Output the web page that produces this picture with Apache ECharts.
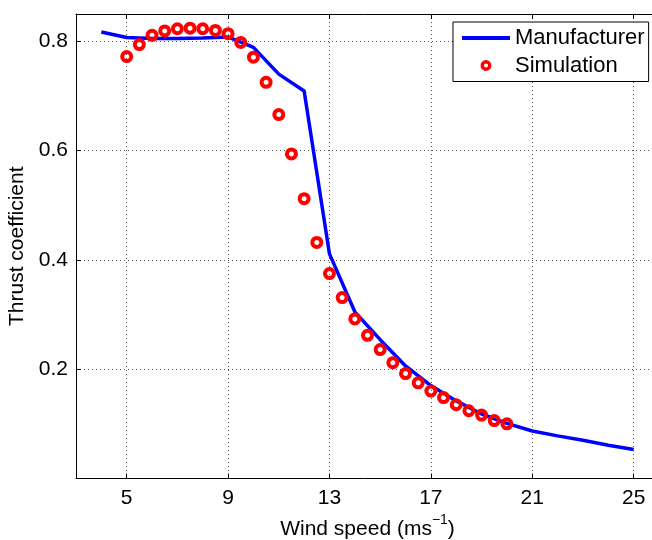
<!DOCTYPE html>
<html>
<head>
<meta charset="utf-8">
<script src="https://cdn.jsdelivr.net/npm/echarts@6/dist/echarts.min.js"></script>
<style>
  html, body { margin: 0; padding: 0; background: #fff; }
  #chart { width: 652px; height: 540px; }
</style>
</head>
<body>
<div id="chart"></div>
<script>
// ---- data ----
const windManufacturer = [4, 5, 6, 7, 8, 9, 10, 11, 12, 13, 14, 15, 16, 17, 18, 19, 20, 21, 22, 23, 24, 25];
const ctManufacturer   = [0.817, 0.807, 0.805, 0.805, 0.806, 0.808, 0.789, 0.740, 0.709, 0.411, 0.305, 0.254, 0.206, 0.170, 0.142, 0.118, 0.101, 0.087, 0.078, 0.070, 0.061, 0.053];

const windSimulation = [5, 5.5, 6, 6.5, 7, 7.5, 8, 8.5, 9, 9.5, 10, 10.5, 11, 11.5, 12, 12.5, 13, 13.5, 14, 14.5, 15, 15.5, 16, 16.5, 17, 17.5, 18, 18.5, 19, 19.5, 20];
const ctSimulation   = [0.772, 0.794, 0.811, 0.819, 0.823, 0.824, 0.823, 0.820, 0.814, 0.798, 0.771, 0.725, 0.666, 0.594, 0.512, 0.432, 0.375, 0.331, 0.292, 0.262, 0.236, 0.212, 0.192, 0.175, 0.160, 0.148, 0.135, 0.124, 0.116, 0.106, 0.100];

const xTicks = [5, 9, 13, 17, 21, 25];
const yTicks = [0.2, 0.4, 0.6, 0.8];

const seriesNames = ['Manufacturer', 'Simulation'];
const xTitle = 'Wind speed (ms';
const xTitleSup = '\u22121';
const yTitle = 'Thrust coefficient';

// ---- chart ----
const FONT = "'Liberation Sans', Arial, Helvetica, sans-serif";
const chart = echarts.init(document.getElementById('chart'), null, { renderer: 'canvas' });

const zip = (a, b) => a.map((v, i) => [v, b[i]]);

const gridLine = { show: true, lineStyle: { color: '#555', width: 1, type: [1, 3] } };

chart.setOption({
  animation: false,
  backgroundColor: '#fff',
  textStyle: { fontFamily: FONT },
  grid: { left: 76, top: 14, right: -7, bottom: 61.5, containLabel: false, outerBoundsMode: 'none' },
  legend: {
    orient: 'vertical',
    left: 453, top: 22,
    padding: [5, 4, 5, 9],
    itemGap: 5.5,
    itemWidth: 48,
    itemHeight: 7.5,
    borderColor: '#000', borderWidth: 1,
    backgroundColor: '#fff',
    textStyle: { fontFamily: FONT, fontSize: 22, color: '#000', lineHeight: 22 },
    data: [
      { name: seriesNames[0], icon: 'path://M0,0 H48 V4 H0 Z', itemStyle: { color: '#0000ff', borderWidth: 0 } },
      { name: seriesNames[1], icon: 'circle', itemStyle: { color: 'rgba(0,0,0,0)', borderColor: '#ff0000', borderWidth: 3.4 } }
    ]
  },
  xAxis: [{
    type: 'value', min: 3, max: 26, position: 'bottom',
    axisLine: { show: true, onZero: false, lineStyle: { color: '#000', width: 1 } },
    axisTick: { show: true, inside: true, length: 5, customValues: xTicks, lineStyle: { color: '#000' } },
    axisLabel: { show: true, customValues: xTicks, color: '#000', fontSize: 21, margin: 9, fontFamily: FONT },
    splitLine: gridLine,
    name: '{a|' + xTitle + '}{b|' + xTitleSup + '}{a|)}',
    nameLocation: 'middle', nameGap: 30,
    nameTextStyle: {
      rich: {
        a: { fontSize: 21, color: '#000', fontFamily: FONT, lineHeight: 26, verticalAlign: 'bottom' },
        b: { fontSize: 14, color: '#000', fontFamily: FONT, lineHeight: 26, verticalAlign: 'top', padding: [0, 0, 8, 0] }
      }
    }
  }, {
    type: 'value', min: 3, max: 26, position: 'top',
    axisLine: { show: true, onZero: false, lineStyle: { color: '#000', width: 1 } },
    axisTick: { show: true, inside: true, length: 5, customValues: xTicks, lineStyle: { color: '#000' } },
    axisLabel: { show: false },
    splitLine: { show: false }
  }],
  yAxis: [{
    type: 'value', min: 0, max: 0.85, position: 'left',
    axisLine: { show: true, onZero: false, lineStyle: { color: '#000', width: 1 } },
    axisTick: { show: true, inside: true, length: 5, customValues: yTicks, lineStyle: { color: '#000' } },
    axisLabel: { show: true, customValues: yTicks, color: '#000', fontSize: 21, margin: 8, fontFamily: FONT,
                 formatter: v => Number(v).toFixed(1) },
    splitLine: gridLine,
    name: yTitle, nameLocation: 'middle', nameGap: 39, nameRotate: 90,
    nameTextStyle: { fontSize: 21, color: '#000', fontFamily: FONT }
  }],
  series: [{
    name: seriesNames[0],
    type: 'line',
    data: zip(windManufacturer, ctManufacturer),
    symbol: 'none',
    lineStyle: { color: '#0000ff', width: 3.5 },
    itemStyle: { color: '#0000ff' },
    z: 2
  }, {
    name: seriesNames[1],
    type: 'scatter',
    data: zip(windSimulation, ctSimulation),
    symbol: 'circle',
    symbolSize: 9,
    itemStyle: { color: 'rgba(0,0,0,0)', borderColor: '#ff0000', borderWidth: 4, opacity: 1 },
    z: 3
  }]
});
</script>
</body>
</html>
